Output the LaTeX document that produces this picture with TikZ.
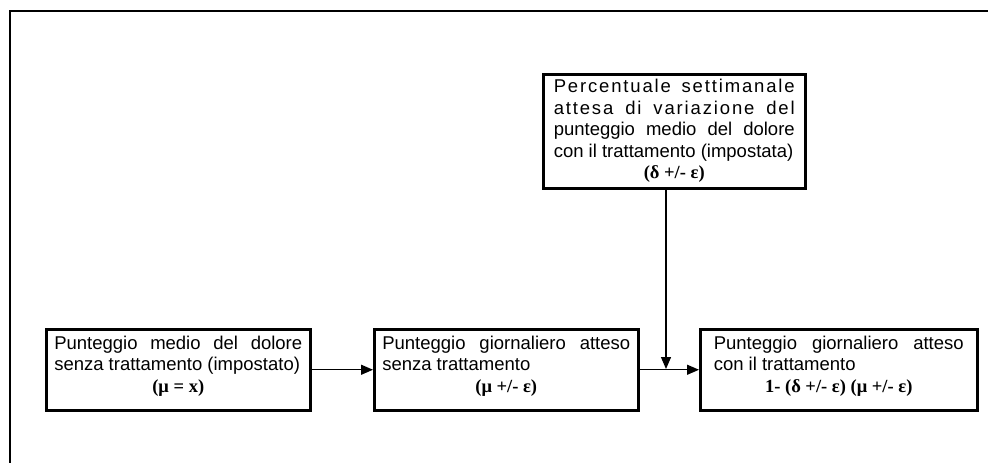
\documentclass[tikz,border=0pt]{standalone}
\usepackage{fontspec}
\setmainfont{Liberation Sans}
\newfontfamily\formfont{Liberation Serif}
\usetikzlibrary{arrows.meta}
\tikzset{
  box/.style={draw, line width=2.5pt, anchor=north west, align=justify,
    text width=248pt, inner xsep=8pt, inner ysep=3pt, minimum height=81pt,
    font=\fontsize{18.5}{21.5}\selectfont},
  chain/.style={box, execute at end node={\par\vspace{7pt}}},
  link/.style={line width=1.3pt, -{Triangle[length=12pt,width=10pt]}}
}
\newcommand{\formula}[1]{\par{\centering\formfont\bfseries #1\par}}
\newcommand{\spaced}[1]{{\addfontfeature{LetterSpace=10}#1}}
\begin{document}
\begin{tikzpicture}[x=1pt,y=-1pt]
\useasboundingbox (0,0) rectangle (988,463);
% Frame round the figure
\draw[line width=2pt] (10,463) -- (10,11) -- (988,11);
% The three boxes of the chain
\node[chain] (base) at (45,328) {Punteggio medio del dolore\linebreak senza trattamento (impostato)\formula{(μ = x)}};
\node[chain] (daily) at (373,328) {Punteggio giornaliero atteso\linebreak senza trattamento\formula{(μ +/- ε)}};
\node[chain, text width=250pt, minimum width=277pt] (treated) at (699,328) {Punteggio giornaliero atteso\linebreak con il trattamento\formula{1- (δ +/- ε) (μ +/- ε)}};
% The box above
\node[box, text width=241pt, inner xsep=10.5pt, minimum height=114pt] (change) at (542,73) {\spaced{Percentuale settimanale}\linebreak \spaced{attesa di variazione del}\linebreak punteggio medio del dolore\linebreak con il trattamento (impostata)\formula{(δ +/- ε)}};
% Connectors
\draw[link] (base) -- (daily);
\draw[link] (daily) -- (treated);
\draw[link] (change.south -| 666,0) -- (666,369);
\end{tikzpicture}
\end{document}
